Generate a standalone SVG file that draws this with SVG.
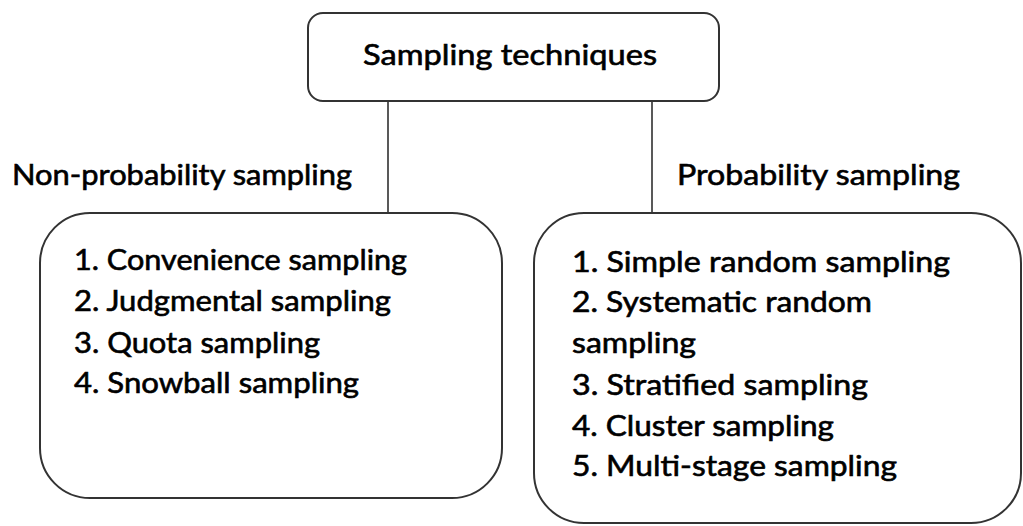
<svg xmlns="http://www.w3.org/2000/svg" width="1023" height="526" viewBox="0 0 1023 526">
<style>
.box{fill:#fff;stroke:#333;stroke-width:2}
.t{font-family:Lato,"Open Sans",sans-serif;font-size:28px;fill:#000;stroke:#000;stroke-width:0.6}
.c{stroke:#222;stroke-width:1.5;fill:none}
</style>
<rect width="1023" height="526" fill="#fff"/>
<g id="connectors">
<line class="c" x1="388" y1="101" x2="388" y2="213"/>
<line class="c" x1="652" y1="101" x2="652" y2="213"/>
</g>
<g id="root">
<rect class="box" x="308" y="13" width="411" height="88" rx="15"/>
<text class="t" x="363" y="65" textLength="294" lengthAdjust="spacingAndGlyphs">Sampling techniques</text>
</g>
<g id="label-nonprob">
<text class="t" x="12" y="185" textLength="340" lengthAdjust="spacingAndGlyphs">Non-probability sampling</text>
</g>
<g id="label-prob">
<text class="t" x="677" y="185" textLength="283" lengthAdjust="spacingAndGlyphs">Probability sampling</text>
</g>
<g id="nonprob">
<rect class="box" x="40" y="213" width="462" height="285" rx="50"/>
<text class="t" x="74" y="270" textLength="333" lengthAdjust="spacingAndGlyphs">1. Convenience sampling</text>
<text class="t" x="74" y="311" textLength="317" lengthAdjust="spacingAndGlyphs">2. Judgmental sampling</text>
<text class="t" x="74" y="353" textLength="246" lengthAdjust="spacingAndGlyphs">3. Quota sampling</text>
<text class="t" x="74" y="393" textLength="285" lengthAdjust="spacingAndGlyphs">4. Snowball sampling</text>
</g>
<g id="prob">
<rect class="box" x="534" y="213" width="487" height="310" rx="50"/>
<text class="t" x="572" y="272" textLength="378" lengthAdjust="spacingAndGlyphs">1. Simple random sampling</text>
<text class="t" x="572" y="312" textLength="300" lengthAdjust="spacingAndGlyphs">2. Systematic random</text>
<text class="t" x="572" y="353" textLength="124" lengthAdjust="spacingAndGlyphs">sampling</text>
<text class="t" x="572" y="395" textLength="296" lengthAdjust="spacingAndGlyphs">3. Stratified sampling</text>
<text class="t" x="572" y="436" textLength="262" lengthAdjust="spacingAndGlyphs">4. Cluster sampling</text>
<text class="t" x="572" y="476" textLength="325" lengthAdjust="spacingAndGlyphs">5. Multi-stage sampling</text>
</g>
</svg>
